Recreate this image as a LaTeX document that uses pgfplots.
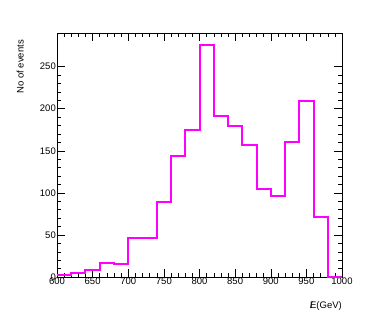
\documentclass[border=0pt]{standalone}
\usepackage{fontspec}
\setmainfont{Liberation Sans}
\usepackage{pgfplots}
\usepackage{pgfplotstable}
\pgfplotsset{compat=1.18}
\definecolor{mag}{RGB}{255,0,255}
\pgfplotstableread{
x y
600 2
620 5
640 8
660 17
680 15
700 46
720 46
740 89
760 144
780 175
800 276
820 191
840 179
860 157
880 104
900 96
920 160
940 209
960 71
980 0
1000 0
}\hist
\begin{document}
\fontsize{9.5}{11}\selectfont
\begin{tikzpicture}
\begin{axis}[
  scale only axis, width=285pt, height=244pt,
  xmin=600, xmax=1000, ymin=0, ymax=290,
  xtick={600,650,...,1000}, ytick={0,50,...,250},
  minor tick num=4,
  tick align=inside,
  major tick length=8pt, minor tick length=4pt,
  tick style={black, line width=0.5pt},
  axis line style={black, line width=0.6pt},
  /pgf/number format/assume math mode=true,
  /pgf/number format/1000 sep={},
  xticklabel style={inner sep=1pt, yshift=0pt},
  yticklabel style={inner sep=1pt},
  xlabel={\rlap{/}E(GeV)},
  xlabel style={at={(rel axis cs:1,0)}, anchor=north east, yshift=-24pt, inner sep=0pt},
  ylabel={No of events},
  ylabel style={at={(rel axis cs:0,1)}, anchor=south east, xshift=-7pt, yshift=33pt, inner sep=0pt},
]
\addplot[const plot, draw=mag, line width=2pt, line join=miter, mark=none] table {\hist};
\end{axis}
\path[use as bounding box] ([xshift=-57pt,yshift=-50pt]current axis.south west) rectangle ++(382pt,327pt);
\end{tikzpicture}
\end{document}
